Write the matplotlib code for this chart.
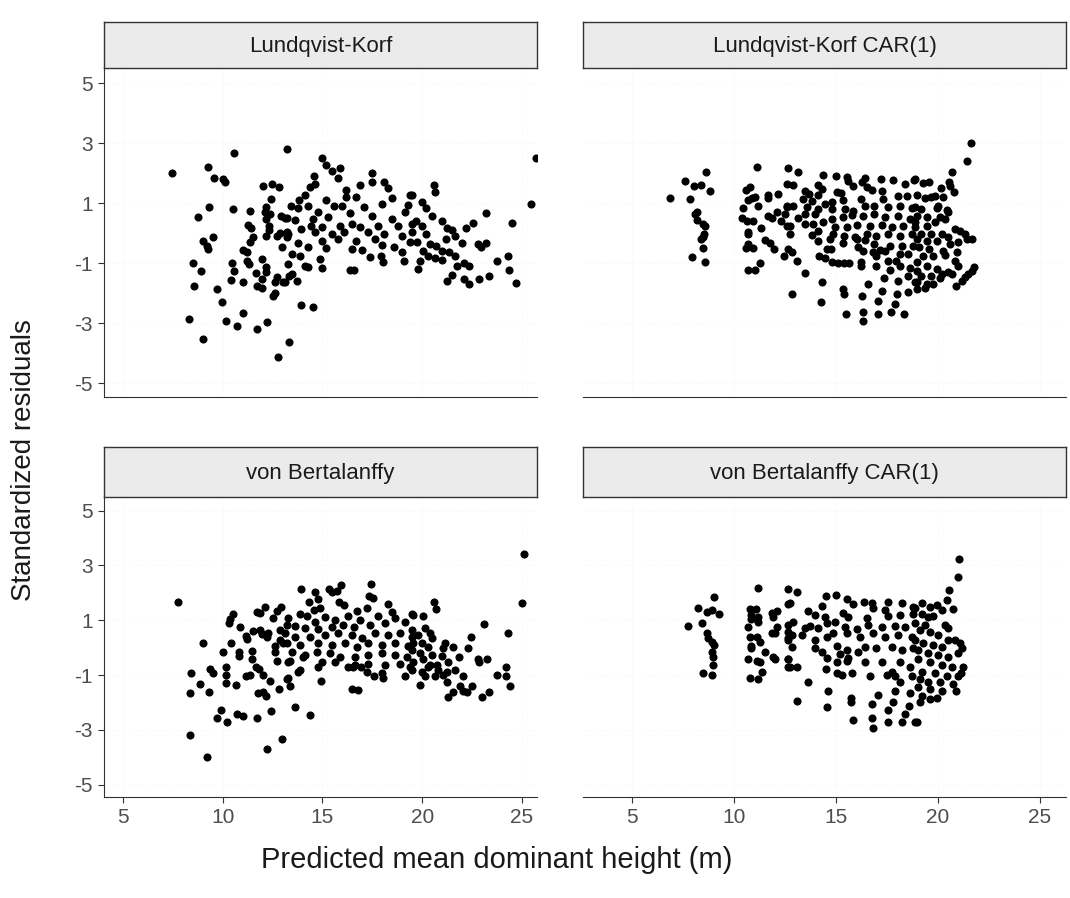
import matplotlib.pyplot as plt

plt.rcParams['font.family'] = ['Liberation Sans', 'DejaVu Sans']
plt.rcParams['axes.unicode_minus'] = False

# Lundqvist-Korf (punkter lest av figuren)
lk_x = [10.56, 7.46, 9.26, 9.56, 10.0, 10.1, 9.3, 10.5, 8.76, 9.5, 9.0, 9.2, 9.26, 8.5, 8.9, 8.56, 9.7, 9.96,
        8.3, 10.16, 10.7, 11.0, 11.7, 12.2, 9.0, 12.77, 13.3, 13.2,
        12.0, 12.47, 12.8, 12.4, 11.37, 12.17, 12.1, 12.37, 12.17, 12.9, 13.2, 11.27, 11.4, 12.3, 12.3, 11.5,
        12.17, 12.7, 12.87, 13.2, 11.37, 12.97, 11.0, 11.2, 10.46, 11.2, 11.3, 11.97, 12.17, 10.56, 11.67,
        12.17, 10.4, 11.0, 11.97, 12.7, 12.6, 13.0, 11.7, 11.97, 12.5, 12.6, 13.27, 13.3,
        15.0, 15.2, 15.5, 15.9, 15.8, 14.57, 14.6, 14.37, 17.5, 17.48, 18.08, 16.88, 16.2, 19.4, 18.28, 14.1,
        13.8, 13.4, 15.2, 16.2, 16.7, 18.5, 14.27, 13.77, 14.77, 15.6, 16.0, 17.1, 17.97, 19.3, 13.1, 13.6,
        14.5, 15.3, 16.4, 17.5, 18.5, 19.15, 13.9, 14.4, 14.97, 15.9, 16.5, 16.9, 17.8, 18.8, 19.5, 13.27,
        14.6, 15.48, 16.1, 17.3, 18.1, 19.0, 13.2, 13.77, 14.27, 14.97, 15.78, 16.7, 17.63, 18.6, 19.4, 15.2,
        16.48, 17.0, 18.0, 19.0, 13.47, 13.87, 14.87, 17.4, 17.93, 18.03, 19.08, 14.1, 14.27, 14.97, 16.38,
        16.58, 13.47, 13.7, 13.1, 13.9, 14.5,
        25.7, 25.45, 20.6, 20.64, 19.5, 20.0, 20.2, 20.5, 23.2, 24.5, 21.0, 22.54, 22.2, 21.24, 21.5, 21.64,
        19.7, 20.0, 19.5, 20.2, 21.2, 22.0, 22.8, 23.2, 22.95, 19.74, 20.4, 20.7, 20.04, 21.0, 21.34, 21.64,
        20.3, 19.9, 20.64, 21.0, 23.75, 24.3, 21.74, 22.1, 22.34, 19.8, 24.35, 21.5, 21.24, 22.1, 22.34,
        22.84, 23.35, 24.7]
lk_y = [2.67, 2.0, 2.2, 1.83, 1.8, 1.7, 0.87, 0.8, 0.53, -0.13, -0.27, -0.43, -0.53, -1.0, -1.27, -1.77, -1.87, -2.3,
        -2.87, -2.93, -3.1, -2.67, -3.2, -2.97, -3.53, -4.13, -3.63, 2.8,
        1.57, 1.63, 1.53, 1.13, 0.73, 0.87, 0.7, 0.63, 0.47, 0.57, 0.5, 0.27, 0.17, 0.23, 0.1, -0.13,
        -0.1, -0.1, 0.0, 0.03, -0.3, -0.47, -0.57, -0.63, -1.0, -0.93, -1.03, -0.87, -1.13, -1.27, -1.33,
        -1.3, -1.57, -1.63, -1.53, -1.47, -1.63, -1.63, -1.77, -1.83, -2.1, -2.0, -1.03, -1.43,
        2.5, 2.27, 2.07, 2.17, 1.83, 1.9, 1.63, 1.53, 2.0, 1.7, 1.7, 1.6, 1.43, 1.27, 1.5, 1.27,
        1.1, 0.9, 1.1, 1.2, 1.2, 1.17, 0.9, 0.83, 0.7, 0.9, 0.9, 0.87, 0.97, 0.93, 0.5, 0.43,
        0.47, 0.53, 0.67, 0.57, 0.47, 0.7, 0.13, 0.23, 0.2, 0.23, 0.3, 0.2, 0.23, 0.23, 0.3, -0.03,
        0.03, -0.03, 0.03, 0.03, -0.03, -0.1, -0.13, -0.33, -0.47, -0.27, -0.2, -0.27, -0.2, -0.47, -0.3, -0.5,
        -0.53, -0.57, -0.4, -0.63, -0.7, -0.77, -0.87, -0.8, -0.77, -0.97, -0.93, -1.1, -1.13, -1.17, -1.23,
        -1.23, -1.37, -1.6, -1.63, -2.4, -2.47,
        2.5, 0.97, 1.6, 1.37, 1.27, 1.03, 0.83, 0.57, 0.67, 0.33, 0.4, 0.33, 0.17, 0.17, 0.1, -0.1,
        0.4, 0.23, 0.03, -0.03, -0.2, -0.33, -0.37, -0.33, -0.47, -0.3, -0.37, -0.43, -0.6, -0.6, -0.63, -0.77,
        -0.77, -0.93, -0.83, -0.9, -0.93, -0.77, -1.1, -1.0, -1.1, -1.2, -1.23, -1.4, -1.6, -1.53, -1.7,
        -1.53, -1.43, -1.67]

# Lundqvist-Korf CAR(1)
lkc_x = [6.86, 7.6, 8.04, 8.38, 8.63, 8.82, 7.84, 8.19, 8.1, 8.19, 8.5, 8.58, 8.53, 8.48, 8.38, 8.5, 7.94, 8.58,
         11.13, 10.6, 10.78, 10.69, 10.88, 11.03, 10.44, 11.18, 11.67, 11.7, 12.16, 12.6, 12.65, 10.39, 10.64,
         10.93, 11.32, 10.69, 10.69, 11.67, 11.86, 12.1, 12.3, 12.6, 12.6, 11.52, 11.76, 11.96, 10.69, 10.59,
         10.93, 12.45, 11.27, 10.69, 11.03,
         13.14, 12.9, 14.36, 15.0, 15.54, 15.59, 16.42, 16.27, 17.2, 17.8, 18.38, 18.82, 15.83, 16.52, 16.76,
         14.12, 14.31, 13.48, 13.68, 14.12, 15.05, 15.25, 17.25, 18.04, 18.5, 13.38, 13.82, 14.46, 14.8, 15.34,
         16.22, 17.3, 12.6, 12.9, 13.58, 14.12, 14.8, 15.44, 15.83, 16.42, 16.9, 17.55, 18.14, 18.73, 12.5,
         13.14, 13.48, 13.97, 14.36, 14.8, 15.34, 15.78, 16.32, 16.9, 17.4, 18.04, 18.63, 12.75, 13.48, 13.87,
         14.95, 15.54, 16.03, 16.67, 17.25, 17.75, 18.28, 18.87, 12.75, 13.82, 14.12, 14.85, 15.39, 15.93,
         16.52, 17.0, 17.55, 18.14, 18.73, 14.12, 14.7, 15.34, 16.03, 16.42, 16.9, 17.16, 17.65, 18.24, 18.77,
         12.65, 12.84, 13.09, 14.56, 14.75, 16.08, 16.32, 16.81, 17.4, 18.14, 18.53, 14.17, 14.46, 14.8, 15.1,
         15.39, 15.64, 16.22, 16.22, 17.0, 17.0, 17.55, 17.94, 18.14, 18.63, 17.65, 13.48, 17.35, 18.04, 18.53,
         18.87, 14.31, 16.57, 12.84, 15.34, 15.39, 16.27, 17.25, 17.99, 18.53, 14.26, 17.06, 17.89, 15.49,
         16.32, 17.06, 17.7, 18.33, 16.32,
         21.62, 21.42, 20.69, 18.87, 19.26, 19.6, 20.54, 20.6, 20.78, 20.15, 19.0, 19.36, 19.66, 19.85, 20.25,
         20.0, 19.95, 20.44, 20.5, 18.87, 19.2, 19.0, 19.46, 20.1, 20.34, 19.85, 18.87, 19.5, 20.83, 21.08,
         21.32, 21.67, 21.42, 19.2, 19.7, 20.2, 20.5, 19.0, 19.5, 19.95, 20.98, 20.6, 19.1, 19.6, 20.25, 20.93,
         19.26, 19.75, 20.34, 20.83, 20.98, 19.0, 19.5, 19.95, 20.5, 18.97, 19.2, 19.7, 20.1, 18.97, 19.46,
         19.75, 19.36, 21.81, 21.67, 21.47, 21.32, 21.18, 20.88, 18.97, 20.2, 20.69]
lkc_y = [1.17, 1.73, 1.57, 1.6, 2.03, 1.4, 1.13, 0.7, 0.63, 0.43, 0.3, 0.23, -0.03, -0.13, -0.2, -0.5, -0.8, -0.97,
         2.2, 1.43, 1.53, 1.1, 1.17, 1.2, 0.83, 0.9, 1.27, 1.17, 1.3, 1.63, 2.17, 0.5, 0.4,
         0.4, 0.17, 0.03, -0.03, 0.57, 0.5, 0.7, 0.4, 0.87, 0.23, -0.23, -0.33, -0.53, -0.37, -0.5,
         -0.5, -0.77, -1.0, -1.23, -1.23,
         2.03, 1.6, 1.93, 1.9, 1.87, 1.73, 1.83, 1.7, 1.8, 1.77, 1.63, 1.77, 1.57, 1.53, 1.43,
         1.6, 1.47, 1.4, 1.3, 1.27, 1.37, 1.33, 1.4, 1.23, 1.23, 1.13, 1.07, 0.97, 1.03, 1.1,
         1.13, 1.13, 0.9, 0.9, 0.87, 0.8, 0.8, 0.8, 0.73, 0.9, 0.9, 0.87, 0.9, 0.83, 0.63,
         0.5, 0.63, 0.63, 0.37, 0.47, 0.53, 0.6, 0.57, 0.63, 0.53, 0.57, 0.47, 0.23, 0.3, 0.3,
         0.2, 0.2, 0.27, 0.23, 0.27, 0.2, 0.23, 0.2, -0.03, -0.07, 0.07, -0.03, -0.1, -0.13,
         -0.03, -0.1, -0.03, -0.1, -0.03, -0.27, -0.2, -0.33, -0.2, -0.23, -0.37, -0.57, -0.43, -0.43, -0.43,
         -0.53, -0.63, -0.93, -0.53, -0.53, -0.47, -0.6, -0.63, -0.6, -0.7, -0.7, -0.77, -0.83, -0.97, -1.0,
         -1.0, -1.0, -0.97, -1.1, -1.1, -0.77, -0.93, -0.93, -1.1, -1.17, -1.23, -1.33, -1.5, -1.6, -1.43,
         -1.63, -1.63, -1.7, -2.03, -1.87, -2.03, -2.1, -1.93, -2.03, -1.97, -2.3, -2.27, -2.37, -2.7,
         -2.63, -2.7, -2.63, -2.7, -2.93,
         3.0, 2.4, 2.03, 1.8, 1.67, 1.7, 1.7, 1.57, 1.37, 1.5, 1.27, 1.17, 1.2, 1.23, 1.2,
         0.9, 0.83, 0.77, 0.7, 0.87, 0.8, 0.57, 0.53, 0.53, 0.47, 0.37, 0.37, 0.23, 0.13, 0.07,
         -0.03, -0.2, -0.2, -0.03, -0.03, -0.03, -0.13, -0.2, -0.27, -0.27, -0.3, -0.37, -0.47, -0.53, -0.6, -0.63,
         -0.77, -0.77, -0.73, -0.93, -1.1, -0.97, -1.1, -1.2, -1.3, -1.27, -1.43, -1.43, -1.5, -1.63, -1.7,
         -1.7, -1.83, -1.13, -1.27, -1.37, -1.47, -1.6, -1.77, -1.87, -1.37, -1.37]

# von Bertalanffy
vb_x = [7.76, 10.51, 10.36, 10.3, 10.86, 11.72, 11.87, 12.12, 12.72, 12.92, 12.52, 11.17, 11.22, 11.52, 11.87,
        11.97, 12.27, 12.22, 9.01, 10.41, 12.87, 13.22, 12.87, 13.02, 12.62, 10.0, 10.81, 10.81, 11.47, 11.47,
        12.62, 12.72, 13.27, 9.36, 9.51, 10.16, 10.16, 11.67, 11.82, 8.41, 11.17, 11.37, 12.02, 12.37, 8.86,
        10.16, 10.66, 8.36, 9.31, 11.77, 12.02, 12.17, 12.82, 13.22, 12.42, 9.91, 9.71, 10.21, 10.71, 11.01,
        11.72, 8.36, 12.97, 12.22, 9.21,
        13.92, 14.62, 15.33, 15.48, 15.93, 15.73, 17.43, 17.33, 17.53, 14.32, 14.77, 15.83, 16.08, 18.28,
        14.57, 14.87, 16.73, 17.23, 18.48, 13.27, 13.87, 14.22, 15.13, 15.63, 16.28, 16.88, 17.78, 18.63,
        19.48, 13.62, 14.62, 14.12, 14.77, 15.48, 16.03, 16.58, 17.38, 18.13, 19.13, 13.12, 13.62, 14.37,
        15.13, 15.78, 16.48, 16.98, 17.63, 18.28, 18.88, 19.48, 13.22, 13.87, 14.77, 15.48, 16.13, 16.73,
        17.28, 17.98, 18.63, 19.28, 13.47, 14.12, 14.72, 15.38, 15.88, 16.63, 17.28, 17.98, 18.63, 19.23,
        13.37, 14.02, 14.97, 15.63, 16.63, 17.28, 18.13, 18.88, 19.38, 16.28, 16.53, 16.93, 17.23, 17.58,
        17.98, 18.03, 19.13, 13.87, 13.77, 14.77, 13.27, 14.92, 13.37, 16.48, 16.78, 13.62, 14.37,
        25.1, 25.0, 20.59, 20.69, 23.1, 24.3, 22.44, 19.54, 20.04, 20.14, 19.49, 19.79, 20.39, 20.49, 19.54,
        19.99, 20.29, 21.14, 21.54, 21.04, 22.29, 19.49, 19.89, 20.49, 20.99, 21.84, 22.79, 23.25, 22.85,
        20.04, 19.54, 20.39, 20.74, 21.29, 19.49, 19.99, 20.29, 20.79, 21.24, 21.64, 24.2, 20.14, 20.64,
        21.04, 22.04, 23.75, 24.2, 21.24, 19.89, 21.89, 22.49, 24.4, 21.54, 22.04, 22.24, 23.35, 21.29, 22.99]
vb_y = [1.67, 1.23, 1.05, 0.9, 0.76, 1.3, 1.27, 1.49, 1.34, 1.49, 1.09, 0.43, 0.33, 0.62, 0.65,
        0.51, 0.54, 0.4, 0.18, 0.18, 0.65, 0.83, 0.29, 0.18, 0.07, -0.14, -0.14, -0.29, -0.11, -0.4,
        -0.14, -0.47, -0.54, -0.76, -0.91, -0.72, -1.01, -0.72, -0.76, -0.94, -1.05, -0.98, -1.01, -1.23, -1.34,
        -1.3, -1.38, -1.67, -1.63, -1.67, -1.63, -1.78, -1.49, -1.16, -2.32, -2.28, -2.57, -2.72, -2.43, -2.5,
        -2.57, -3.19, -3.33, -3.7, -3.99,
        2.14, 2.03, 2.14, 2.03, 2.28, 2.07, 2.32, 1.88, 1.81, 1.67, 1.78, 1.67, 1.56, 1.59,
        1.38, 1.45, 1.34, 1.45, 1.3, 1.09, 1.23, 1.16, 1.12, 1.01, 1.16, 1.01, 1.16, 1.09,
        1.23, 0.8, 0.94, 0.72, 0.69, 0.76, 0.83, 0.76, 0.83, 0.91, 0.94, 0.54, 0.4, 0.4,
        0.47, 0.54, 0.47, 0.36, 0.54, 0.47, 0.54, 0.4, 0.18, 0.11, 0.18, 0.11, 0.18, 0.04,
        0.18, 0.11, 0.18, 0.07, -0.14, -0.25, -0.14, -0.18, -0.33, -0.33, -0.25, -0.18, -0.25, -0.33,
        -0.47, -0.33, -0.51, -0.51, -0.62, -0.58, -0.62, -0.58, -0.72, -0.72, -0.69, -0.69, -0.87, -1.05,
        -0.91, -1.09, -1.05, -0.8, -0.87, -0.72, -1.12, -1.23, -1.41, -1.49, -1.56, -2.17, -2.46,
        3.41, 1.63, 1.67, 1.41, 0.87, 0.54, 0.4, 1.2, 1.16, 0.72, 0.65, 0.47, 0.54, 0.36, 0.18,
        0.18, 0.04, 0.18, 0.04, 0.0, 0.0, -0.07, -0.18, -0.25, -0.29, -0.33, -0.4, -0.4, -0.54,
        -0.43, -0.54, -0.62, -0.65, -0.54, -0.8, -0.87, -0.72, -0.8, -0.87, -0.83, -0.69, -1.05, -1.05,
        -1.01, -1.05, -0.98, -1.05, -1.27, -1.38, -1.41, -1.41, -1.41, -1.63, -1.59, -1.63, -1.63, -1.81, -1.81]

# von Bertalanffy CAR(1)
vbc_x = [7.75, 8.24, 8.43, 8.68, 8.92, 9.02, 9.26, 8.68, 8.73, 8.92, 9.02, 8.92, 8.97, 8.97, 8.48, 8.92,
         11.18, 10.78, 11.08, 10.83, 10.83, 11.18, 11.18, 10.69, 11.86, 12.11, 11.91, 12.11, 11.86, 12.01,
         12.65, 12.65, 12.65, 12.65, 12.65, 12.65, 10.78, 11.13, 11.27, 10.83, 10.83, 11.52, 10.69, 11.13,
         11.91, 12.01, 11.27, 11.37, 10.78, 11.18,
         13.09, 12.75, 14.51, 15.0, 15.54, 15.83, 16.37, 16.76, 16.81, 17.55, 18.24, 18.77, 14.31, 13.63,
         13.97, 14.46, 15.34, 15.59, 16.52, 17.4, 17.55, 18.14, 18.77, 12.89, 13.48, 13.73, 14.12, 14.56,
         14.95, 15.44, 16.03, 16.57, 17.25, 17.89, 18.38, 12.65, 12.84, 13.33, 13.97, 14.56, 14.85, 15.54,
         16.18, 16.81, 17.4, 18.04, 18.73, 12.65, 12.84, 13.97, 14.31, 15.05, 15.54, 16.42, 17.0, 17.75,
         18.24, 18.77, 14.56, 15.2, 15.59, 16.08, 16.42, 17.25, 18.14, 18.63, 12.65, 12.75, 13.09, 14.51,
         15.05, 15.54, 15.05, 15.29, 15.78, 16.67, 17.5, 17.75, 18.14, 17.89, 18.73, 13.63, 14.61, 17.06,
         17.89, 18.63, 15.74, 15.74, 16.76, 17.79, 18.58, 13.09, 14.56, 17.55, 18.38, 15.83, 16.76, 17.55,
         18.24, 18.87, 16.81,
         21.03, 20.98, 20.54, 20.44, 20.74, 19.22, 19.61, 19.95, 20.2, 18.87, 19.22, 19.51, 19.75, 18.87,
         19.36, 20.34, 20.49, 19.12, 19.61, 20.0, 20.83, 21.08, 20.49, 18.87, 19.26, 19.75, 20.2, 21.18,
         20.98, 19.02, 19.51, 20.0, 20.49, 19.02, 19.61, 20.2, 20.69, 21.23, 21.13, 20.98, 19.22, 19.85,
         20.44, 19.12, 19.51, 20.1, 20.74, 19.02, 19.61, 20.2, 20.88, 19.22, 19.61, 19.95, 19.12, 18.97]
vbc_y = [0.8, 1.45, 0.91, 1.3, 1.38, 1.85, 1.23, 0.54, 0.36, 0.22, 0.11, -0.14, -0.33, -0.62, -0.91, -0.98,
         2.17, 1.41, 1.41, 1.2, 1.05, 1.12, 0.94, 0.76, 1.27, 1.34, 1.12, 0.76, 0.54, 0.54,
         2.14, 1.59, 0.83, 0.36, -0.4, -0.72, 0.4, 0.4, 0.22, 0.07, 0.0, -0.14, -0.43, -0.47,
         -0.33, -0.4, -0.54, -0.87, -1.09, -1.16,
         2.03, 1.63, 1.88, 1.92, 1.78, 1.59, 1.67, 1.63, 1.45, 1.67, 1.63, 1.49, 1.52, 1.34,
         1.2, 1.12, 1.27, 1.12, 1.09, 1.38, 1.16, 1.2, 1.23, 0.94, 0.72, 0.8, 0.72, 0.91,
         0.94, 0.76, 0.69, 0.83, 0.76, 0.8, 0.76, 0.58, 0.47, 0.47, 0.29, 0.4, 0.54, 0.54,
         0.4, 0.54, 0.4, 0.47, 0.4, 0.29, 0.04, 0.0, -0.14, 0.07, -0.07, 0.04, 0.0, 0.04,
         -0.07, 0.0, -0.36, -0.22, -0.36, -0.14, -0.51, -0.54, -0.54, -0.69, -0.43, -0.72, -0.69, -0.76,
         -0.54, -0.47, -0.94, -0.98, -0.94, -1.05, -0.98, -0.87, -1.27, -1.05, -1.05, -1.27, -1.59, -1.74,
         -1.59, -1.67, -1.85, -1.99, -2.07, -1.99, -2.14, -1.96, -2.17, -2.28, -2.43, -2.64, -2.57, -2.72,
         -2.72, -2.72, -2.93,
         3.22, 2.57, 2.1, 1.74, 1.41, 1.63, 1.49, 1.56, 1.38, 1.45, 1.23, 1.12, 1.16, 0.91,
         0.83, 0.83, 0.72, 0.65, 0.58, 0.47, 0.29, 0.18, 0.29, 0.29, 0.18, 0.11, 0.04, 0.0,
         -0.18, -0.07, -0.18, -0.25, -0.33, -0.43, -0.54, -0.62, -0.69, -0.72, -0.91, -1.05, -0.87, -0.91,
         -1.05, -1.16, -1.27, -1.27, -1.34, -1.45, -1.52, -1.59, -1.59, -1.78, -1.88, -1.85, -1.99, -2.72]

titles = ["Lundqvist-Korf", "Lundqvist-Korf CAR(1)", "von Bertalanffy", "von Bertalanffy CAR(1)"]
xs = [lk_x, lkc_x, vb_x, vbc_x]
ys = [lk_y, lkc_y, vb_y, vbc_y]
x_ticks = [5, 10, 15, 20, 25]
y_ticks = [-5, -3, -1, 1, 3, 5]

W, H = 1070, 898
fig = plt.figure(figsize=(W / 100, H / 100), dpi=100)

# panelposisjoner i piksler: venstre, høyre, topp strip, topp akse, bunn akse
cols = [(104, 537, (4.05, 25.75)), (583, 1066, (2.6, 26.3))]
rows = [(22, 68, 397), (447, 497, 797)]

for i in range(4):
    r, c = divmod(i, 2)
    left, right, xlim = cols[c]
    s_top, a_top, a_bot = rows[r]
    ax = fig.add_axes([left / W, 1 - a_bot / H, (right - left) / W, (a_bot - a_top) / H])
    ax.scatter(xs[i], ys[i], s=34, color="black", linewidths=0, zorder=3)
    ax.set_xlim(*xlim)
    ax.set_ylim(-5.45, 5.5)
    ax.set_xticks(x_ticks)
    ax.set_yticks(y_ticks)
    ax.grid(True, color="#f2f2f2", linewidth=0.5, linestyle=":")
    for sp in ["top", "right"]:
        ax.spines[sp].set_visible(False)
    ax.spines["bottom"].set_color("#333333")
    ax.spines["left"].set_color("#333333")
    ax.tick_params(colors="#333333", labelcolor="#4d4d4d", labelsize=15, length=4, width=0.8, pad=4)
    if c == 1:
        ax.spines["left"].set_visible(False)
        ax.tick_params(axis="y", left=False, labelleft=False)
    if r == 0:
        ax.tick_params(axis="x", bottom=False, labelbottom=False)

    sax = fig.add_axes([left / W, 1 - a_top / H, (right - left) / W, (a_top - s_top) / H])
    sax.set_facecolor("#ebebeb")
    sax.set_xticks([])
    sax.set_yticks([])
    for sp in sax.spines.values():
        sp.set_color("#333333")
        sp.set_linewidth(1.0)
    sax.text(0.5, 0.47, titles[i], ha="center", va="center", fontsize=16, color="#1a1a1a",
             transform=sax.transAxes)

fig.text(24 / W, 1 - 460 / H, "Standardized residuals", rotation=90, ha="center", va="center",
         fontsize=20, color="#1a1a1a")
fig.text(497 / W, 1 - 860 / H, "Predicted mean dominant height (m)", ha="center", va="center",
         fontsize=21, color="#1a1a1a")

plt.savefig("out.png", dpi=100)
